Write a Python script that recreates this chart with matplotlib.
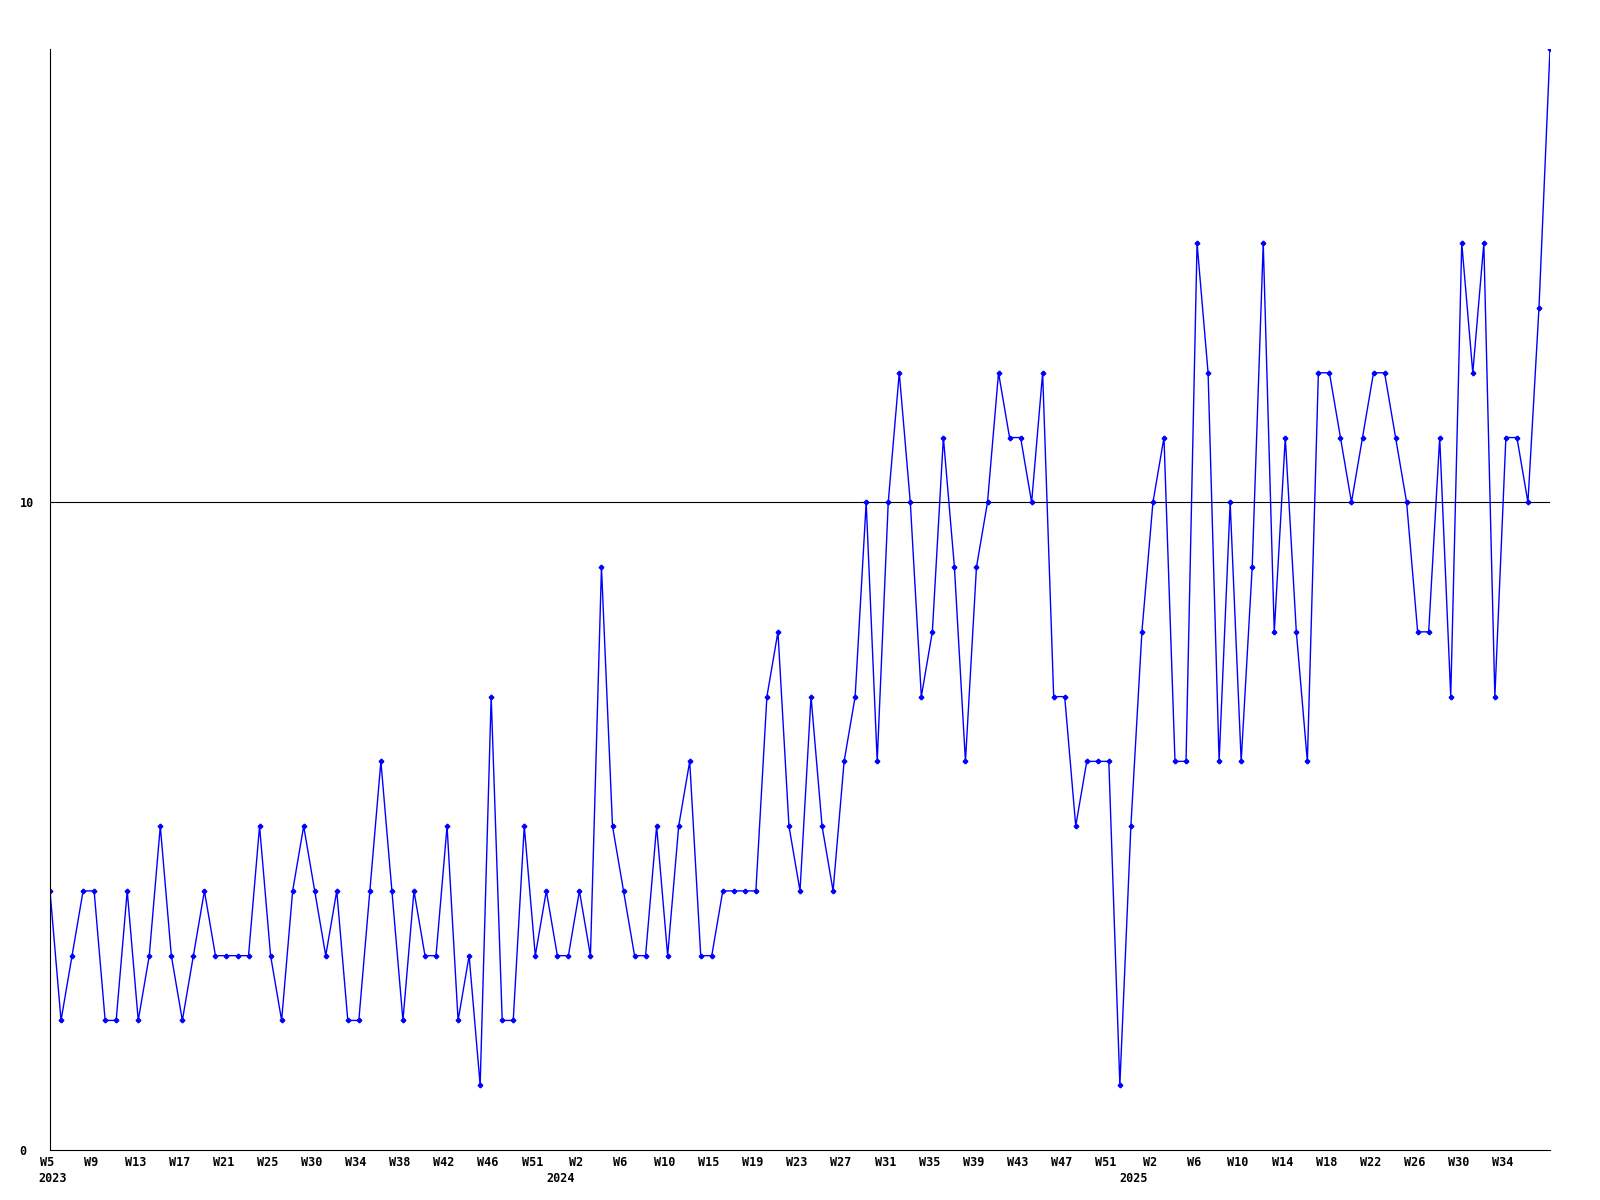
import matplotlib
matplotlib.use("Agg")
import matplotlib.pyplot as plt
import matplotlib.transforms as mtransforms

# weekly values, W5 2023 .. W38 2025
values = [
    4, 2, 3, 4, 4, 2, 2, 4, 2, 3, 5, 3, 2, 3, 4, 3, 3, 3, 3, 5,
    3, 2, 4, 5, 4, 3, 4, 2, 2, 4, 6, 4, 2, 4, 3, 3, 5, 2, 3, 1,
    7, 2, 2, 5, 3, 4, 3, 3, 4, 3, 9, 5, 4, 3, 3, 5, 3, 5, 6, 3,
    3, 4, 4, 4, 4, 7, 8, 5, 4, 7, 5, 4, 6, 7, 10, 6, 10, 12, 10, 7,
    8, 11, 9, 6, 9, 10, 12, 11, 11, 10, 12, 7, 7, 5, 6, 6, 6, 1, 5, 8,
    10, 11, 6, 6, 14, 12, 6, 10, 6, 9, 14, 8, 11, 8, 6, 12, 12, 11, 10, 11,
    12, 12, 11, 10, 8, 8, 11, 7, 14, 12, 14, 7, 11, 11, 10, 13, 17,
]

week_labels = [
    "W5", "W9", "W13", "W17", "W21", "W25", "W30", "W34", "W38", "W42", "W46", "W51",
    "W2", "W6", "W10", "W15", "W19", "W23", "W27", "W31", "W35", "W39", "W43", "W47", "W51",
    "W2", "W6", "W10", "W14", "W18", "W22", "W26", "W30", "W34",
]
years = ["2023", "2024", "2025"]
year_index = [0, 46, 98]

font = {"family": "DejaVu Sans Mono", "weight": "bold", "size": 8.5}

fig = plt.figure(figsize=(16, 12), dpi=100)
ax = fig.add_axes([0.03125, 0.0417, 0.9375, 0.9175])

x = list(range(len(values)))
ax.plot(x, values, color="#0000ff", lw=1.0, marker="P", ms=3, mec="#0000ff", mfc="#0000ff")
ax.axhline(10, color="black", lw=0.8, zorder=0)

ax.set_xlim(0, len(values) - 1)
ax.set_ylim(0, 17)

for s in ["top", "right"]:
    ax.spines[s].set_visible(False)
for s in ["left", "bottom"]:
    ax.spines[s].set_linewidth(0.8)

ax.set_xticks([4 * k for k in range(len(week_labels))])
ax.set_xticklabels(week_labels, **font)
ax.tick_params(axis="x", length=0, pad=4)
shift = mtransforms.ScaledTranslation(-3 / 100, 0, fig.dpi_scale_trans)
for t in ax.get_xticklabels():
    t.set_transform(t.get_transform() + shift)

ax.set_yticks([0, 10])
ax.set_yticklabels(["0", "10"], **font)
ax.tick_params(axis="y", length=0, pad=22)
for t in ax.get_yticklabels():
    t.set_horizontalalignment("left")

for yr, xi in zip(years, year_index):
    ax.annotate(yr, xy=(xi, 0), xycoords=("data", "axes fraction"),
                xytext=(2, -16), textcoords="offset points",
                ha="center", va="top", **font)

fig.savefig("out.png", dpi=100)
